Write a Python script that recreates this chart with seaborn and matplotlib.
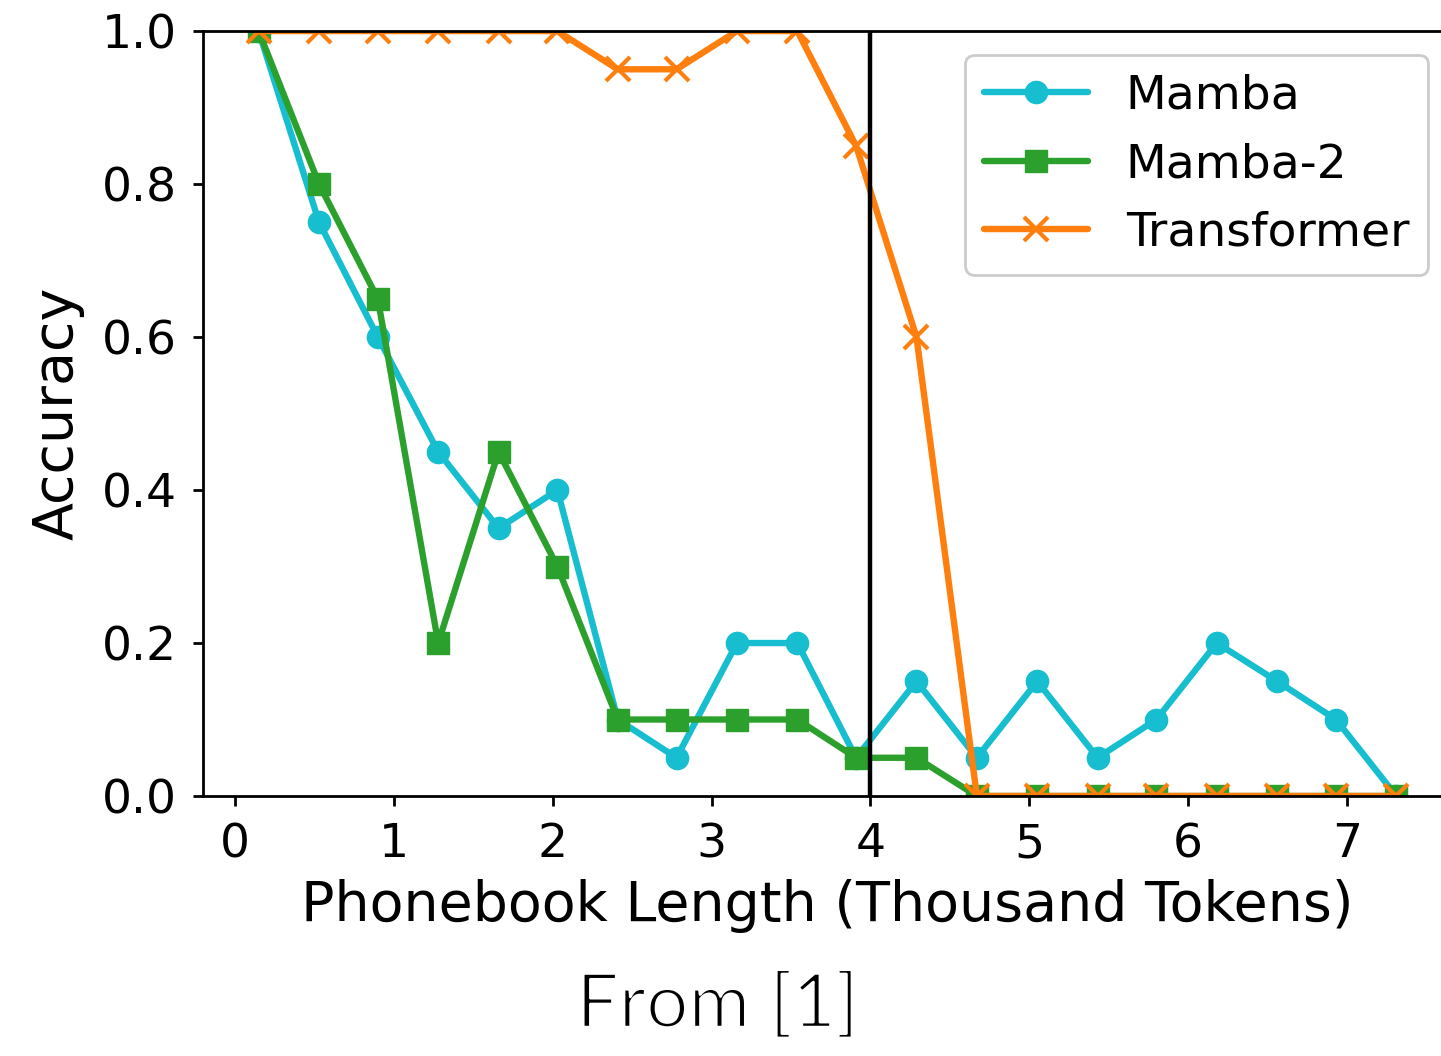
import numpy as np
import pandas as pd
import matplotlib
matplotlib.use("Agg")
import matplotlib.pyplot as plt
import matplotlib.patheffects as pe
import seaborn as sns

# phonebook length in thousand tokens
lengths = [0.15, 0.53, 0.90, 1.28, 1.66, 2.03, 2.41, 2.78, 3.16, 3.54,
           3.91, 4.29, 4.67, 5.05, 5.43, 5.80, 6.18, 6.56, 6.93, 7.31]

mamba = [1.0, 0.75, 0.6, 0.45, 0.35, 0.4, 0.1, 0.05, 0.2, 0.2,
         0.05, 0.15, 0.05, 0.15, 0.05, 0.1, 0.2, 0.15, 0.1, 0.0]
mamba2 = [1.0, 0.8, 0.65, 0.2, 0.45, 0.3, 0.1, 0.1, 0.1, 0.1,
          0.05, 0.05, 0.0, 0.0, 0.0, 0.0, 0.0, 0.0, 0.0, 0.0]
transformer = [1.0, 1.0, 1.0, 1.0, 1.0, 1.0, 0.95, 0.95, 1.0, 1.0,
               0.85, 0.6, 0.0, 0.0, 0.0, 0.0, 0.0, 0.0, 0.0, 0.0]

series = [
    ("Mamba", mamba, "#17becf", "o"),
    ("Mamba-2", mamba2, "#2ca02c", "s"),
    ("Transformer", transformer, "#ff7f0e", "x"),
]

sns.set_style("ticks", rc={"text.color": "black", "axes.labelcolor": "black",
                           "xtick.color": "black", "ytick.color": "black",
                           "axes.edgecolor": "black"})
plt.rcParams["font.family"] = ["DejaVu Sans"]

fig = plt.figure(figsize=(1441 / 200, 1056 / 200), dpi=200)
ax = fig.add_axes([0.1409, 0.2462, 0.8667, 0.7244])

for name, vals, color, marker in series:
    df = pd.DataFrame({"length": lengths, "acc": vals})
    sns.lineplot(data=df, x="length", y="acc", ax=ax, color=color,
                 marker=marker, markersize=8 if marker != "x" else 8.5,
                 markeredgecolor=color,
                 markeredgewidth=1.5 if marker == "x" else 0.5,
                 linewidth=2.3, label=name)

ax.axvline(4, color="black", linewidth=1.6)

ax.set_ylim(0, 1)
ax.set_xlim(-0.2, 7.66)
ax.set_xticks(range(8))
ax.set_yticks(np.arange(0, 1.01, 0.2))
ax.tick_params(labelsize=17, length=3.5, width=1, pad=6)
for s in ax.spines.values():
    s.set_linewidth(1)

ax.set_xlabel("Phonebook Length (Thousand Tokens)", fontsize=20, labelpad=4)
ax.set_ylabel("Accuracy", fontsize=20, labelpad=6)

ax.legend(loc="upper right", fontsize=17, framealpha=1, handlelength=2.2)

# thin the regular weight a little with a white outline
fig.text(0.498, 0.015, "From [1]", ha="center", va="bottom", color="black",
         fontsize=27, family=["Lato", "DejaVu Sans"], weight="normal",
         path_effects=[pe.Stroke(linewidth=1.0, foreground="white")])

fig.savefig("out.png", dpi=200)
